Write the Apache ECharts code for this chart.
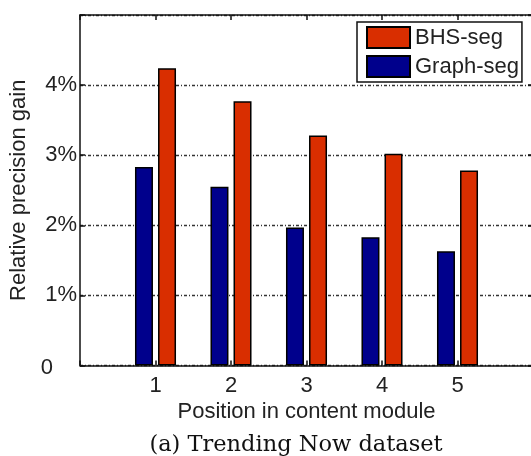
<!DOCTYPE html>
<html>
<head>
<meta charset="utf-8">
<script src="https://cdn.jsdelivr.net/npm/echarts@6/dist/echarts.min.js"></script>
<style>
  html, body { margin: 0; padding: 0; background: #fff; }
  #chart { width: 531px; height: 456px; }
</style>
</head>
<body>
<div id="chart"></div>
<script>
// Position of the item in the content module
var positions = [1, 2, 3, 4, 5];
// Relative precision gain (%) per method
var graphSeg = [2.83, 2.55, 1.97, 1.83, 1.63];
var bhsSeg = [4.24, 3.77, 3.28, 3.02, 2.78];
// Y tick values (%)
var yTicks = [0, 1, 2, 3, 4, 5];

var sans = 'Liberation Sans';
var fs = 22;
var chart = echarts.init(document.getElementById('chart'), null, { renderer: 'canvas' });

function pairs(vals) {
  return positions.map(function (p, i) { return [p, vals[i]]; });
}

var axisLineStyle = { color: '#111', width: 1.5 };
function line() { return { show: true, onZero: false, lineStyle: axisLineStyle }; }
function ticks() { return { show: true, inside: true, length: 5, lineStyle: axisLineStyle }; }

chart.setOption({
  animation: false,
  backgroundColor: '#fff',
  grid: { left: 80, top: 15, width: 453, height: 350.5, containLabel: false, outerBoundsMode: 'none' },
  legend: {
    orient: 'vertical',
    left: 357,
    top: 22,
    data: ['BHS-seg', 'Graph-seg'],
    itemWidth: 43,
    itemHeight: 21,
    itemGap: 6,
    padding: [4, 3, 4, 9],
    borderColor: '#111',
    borderWidth: 1.5,
    backgroundColor: '#fff',
    icon: 'rect',
    textStyle: { fontFamily: sans, fontSize: fs, color: '#222' }
  },
  xAxis: [
    {
      type: 'value', min: 0, max: 6, interval: 1, position: 'bottom',
      name: 'Position in content module', nameLocation: 'middle', nameGap: 34,
      nameTextStyle: { fontFamily: sans, fontSize: fs, color: '#222' },
      axisLine: line(), axisTick: ticks(),
      axisLabel: {
        fontFamily: sans, fontSize: fs, color: '#222', margin: 9,
        formatter: function (v) { return positions.indexOf(v) >= 0 ? String(v) : ''; }
      },
      splitLine: { show: false }
    },
    {
      type: 'value', min: 0, max: 6, interval: 1, position: 'top',
      axisLine: line(), axisTick: ticks(),
      axisLabel: { show: false },
      splitLine: { show: false }
    }
  ],
  yAxis: [
    {
      type: 'value', min: yTicks[0], max: yTicks[yTicks.length - 1], interval: 1, position: 'left',
      name: 'Relative precision gain', nameLocation: 'middle', nameGap: 50, nameRotate: 90,
      nameTextStyle: { fontFamily: sans, fontSize: fs, color: '#222' },
      axisLine: line(), axisTick: ticks(),
      axisLabel: {
        fontFamily: sans, fontSize: fs, color: '#222', margin: 3,
        formatter: function (v) {
          if (v === 0) return '{z|0}';
          if (v === yTicks[yTicks.length - 1]) return '';
          return v + '%';
        },
        rich: { z: { fontFamily: sans, fontSize: fs, color: '#222', padding: [4, 24, 0, 0] } }
      },
      splitLine: { show: true, lineStyle: { color: '#333', width: 1.3, type: [3, 2, 1, 2] } }
    },
    {
      type: 'value', min: yTicks[0], max: yTicks[yTicks.length - 1], interval: 1, position: 'right',
      axisLine: line(), axisTick: ticks(),
      axisLabel: { show: false },
      splitLine: { show: false }
    }
  ],
  series: [
    {
      name: 'Graph-seg', type: 'bar', xAxisIndex: 0, yAxisIndex: 0,
      data: pairs(graphSeg), barWidth: 18, barGap: '28%',
      itemStyle: { color: '#00008c', borderColor: '#000', borderWidth: 1.5 }
    },
    {
      name: 'BHS-seg', type: 'bar', xAxisIndex: 0, yAxisIndex: 0,
      data: pairs(bhsSeg), barWidth: 18, barGap: '28%',
      itemStyle: { color: '#d92e00', borderColor: '#000', borderWidth: 1.5 }
    }
  ],
  graphic: [
    {
      type: 'text', x: 296, y: 445,
      style: {
        text: '(a) Trending Now dataset', font: '22.5px "DejaVu Serif"', fill: '#111',
        textAlign: 'center', textVerticalAlign: 'middle'
      }
    }
  ]
});
</script>
</body>
</html>
